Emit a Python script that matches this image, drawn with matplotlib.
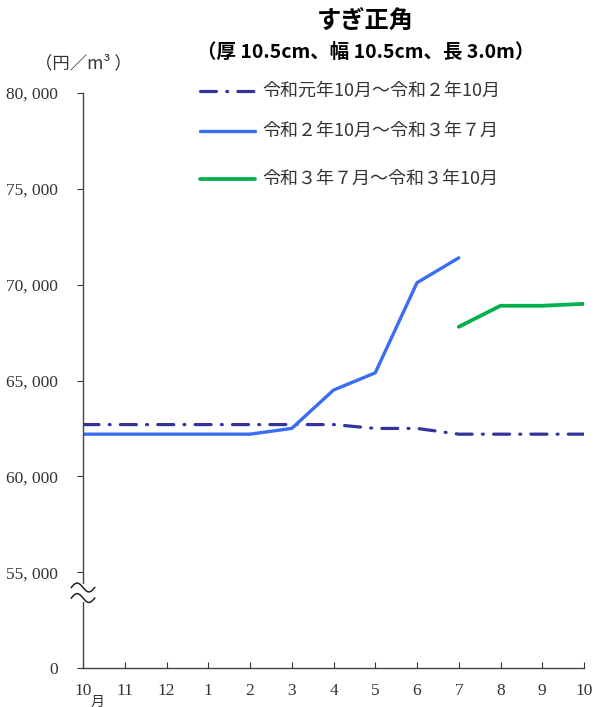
import matplotlib
matplotlib.use("Agg")
import matplotlib.pyplot as plt
import numpy as np

plt.rcParams['font.family'] = ['Noto Sans CJK JP', 'DejaVu Sans']

months = ['10', '11', '12', '1', '2', '3', '4', '5', '6', '7', '8', '9', '10']
r1_r2 = [62700, 62700, 62700, 62700, 62700, 62700, 62700, 62500, 62500, 62200, 62200, 62200, 62200]
r2_r3 = [62200, 62200, 62200, 62200, 62200, 62500, 64500, 65400, 70100, 71400]
r3_r3 = [67800, 68900, 68900, 69000]
y_ticks = [50000, 55000, 60000, 65000, 70000, 75000, 80000]
y_tick_labels = ['0', '55, 000', '60, 000', '65, 000', '70, 000', '75, 000', '80, 000']
series_names = ['令和元年10月～令和２年10月', '令和２年10月～令和３年７月', '令和３年７月～令和３年10月']

fig = plt.figure(figsize=(5.99, 7.07), dpi=100)
ax = fig.add_axes([83 / 599, 1 - 668 / 707, (584 - 83) / 599, (668 - 93) / 707])

dd = (5, 3.2, 0.3, 3.2)
x = np.arange(len(months))
l1, = ax.plot(x, r1_r2, color='#33339a', lw=2.3, dashes=dd, dash_capstyle='round')
l2, = ax.plot(x[:len(r2_r3)], r2_r3, color='#3a6cf4', lw=2.4, solid_capstyle='round')
l3, = ax.plot(x[9:9 + len(r3_r3)], r3_r3, color='#00b04c', lw=2.7, solid_capstyle='round')

ax.set_xlim(0, 12)
ax.set_ylim(50000, 80000)
for s in ['top', 'right']:
    ax.spines[s].set_visible(False)
for s in ['left', 'bottom']:
    ax.spines[s].set_color('#444444')
    ax.spines[s].set_linewidth(1.0)

ax.set_yticks(y_ticks)
ax.set_yticklabels(y_tick_labels, fontsize=12.5, family=['Liberation Serif'])
ax.tick_params(axis='y', direction='out', length=4, pad=14, colors='#333333')
ax.set_xticks(x)
ax.set_xticklabels(months, fontsize=12.5, family=['Liberation Serif'])
ax.tick_params(axis='x', direction='in', length=4, pad=11, colors='#333333')
ax.text(0.36, -0.046, '月', transform=ax.get_xaxis_transform(), fontsize=10,
        ha='center', va='top', color='#333333')

# axis break mark
ax.add_patch(plt.Rectangle((-0.05, 53450), 0.1, 950, facecolor='white',
                           edgecolor='none', clip_on=False, zorder=5))
t = np.linspace(-0.28, 0.28, 60)
for yb in [54200, 53650]:
    ax.plot(t, yb - 230 * np.sin(t / 0.28 * np.pi), color='#222222', lw=1.1,
            clip_on=False, zorder=6)

fig.text(0.61, 1 - 22 / 707, 'すぎ正角', fontsize=17.5, fontweight='bold',
         ha='center', va='center')
fig.text(0.61, 1 - 52 / 707, '（厚 10.5cm、幅 10.5cm、長 3.0m）', fontsize=14,
         fontweight='bold', ha='center', va='center')
fig.text(83 / 599, 1 - 63 / 707, '（円／m³ ）', fontsize=12.5, ha='center',
         va='center', color='#333333')

handles = [l1, l2, l3]
ys = [91, 131, 179]
for h, name, yy in zip(handles, series_names, ys):
    fy = 1 - yy / 707
    fig.add_artist(plt.Line2D([200 / 599, 255 / 599], [fy, fy], color=h.get_color(),
                              lw=h.get_linewidth(),
                              dashes=dd if h is l1 else (None, None),
                              dash_capstyle='round', solid_capstyle='round'))
    fig.text(262 / 599, fy, name, fontsize=13, va='center', ha='left', color='#333333')

fig.savefig('out.png', dpi=100)
